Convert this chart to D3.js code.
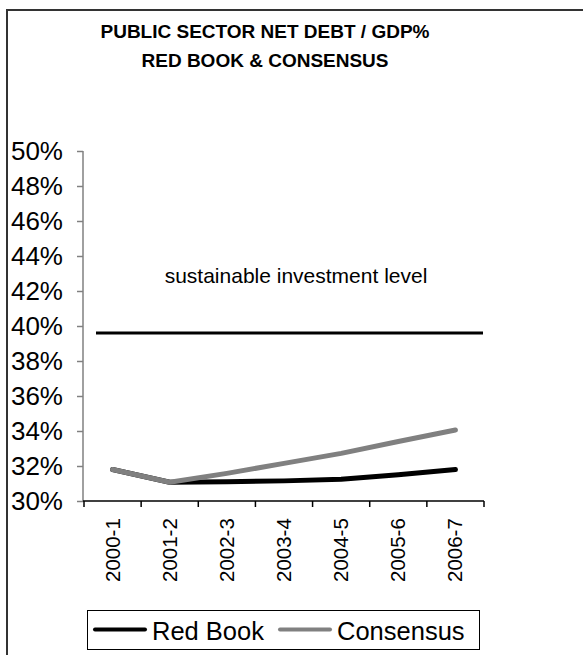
<!DOCTYPE html>
<html>
<head>
<meta charset="utf-8">
<script src="https://cdn.jsdelivr.net/npm/d3@7"></script>
<style>
  body { margin: 0; background: #fff; }
  text { font-family: "Liberation Sans", Arial, sans-serif; }
</style>
</head>
<body>
<div id="chart"></div>
<script>
// data
var years = ["2000-1", "2001-2", "2002-3", "2003-4", "2004-5", "2005-6", "2006-7"];
var redBook = [0.318, 0.3107, 0.311, 0.3115, 0.3124, 0.315, 0.318];
var consensus = [0.318, 0.3107, 0.3158, 0.3215, 0.3272, 0.334, 0.3406];
var sustainable = 0.396;
var yTicks = [0.30, 0.32, 0.34, 0.36, 0.38, 0.40, 0.42, 0.44, 0.46, 0.48, 0.50];
var titleLines = ["PUBLIC SECTOR NET DEBT / GDP%", "RED BOOK & CONSENSUS"];
var seriesNames = ["Red Book", "Consensus"];

var w = 583, h = 655;

var svg = d3.select("#chart").append("svg")
  .attr("width", w)
  .attr("height", h);

// outer frame (runs off the right/bottom edge like the original)
svg.append("rect")
  .attr("x", 7).attr("y", 10)
  .attr("width", 620).attr("height", 700)
  .attr("fill", "none")
  .attr("stroke", "#333")
  .attr("stroke-width", 2);

// title
svg.selectAll(".title")
  .data(titleLines)
  .enter().append("text")
  .attr("class", "title")
  .attr("x", 265)
  .attr("y", function(d, i) { return 38 + i * 29; })
  .attr("text-anchor", "middle")
  .style("font-weight", "bold")
  .style("font-size", "19px")
  .text(function(d) { return d; });

var x = d3.scaleBand().domain(years).range([84, 484]);
var y = d3.scaleLinear().domain([0.30, 0.50]).range([501, 151]);

// y axis
var yAxis = svg.append("g")
  .attr("transform", "translate(83,0)")
  .call(d3.axisLeft(y).tickValues(yTicks).tickFormat(d3.format(".0%")).tickSize(6).tickPadding(14));
yAxis.selectAll("path, line").attr("stroke", "#808080").attr("stroke-width", 1.5);
yAxis.select(".domain").attr("d", "M0,151V501");
yAxis.selectAll("text")
  .style("font-size", "26px")
  .style("font-family", "Liberation Sans, Arial, sans-serif")
  .attr("fill", "#000");

// x axis (ticks between bands)
var xAxis = svg.append("g").attr("transform", "translate(0,501)");
xAxis.append("line")
  .attr("x1", 83).attr("x2", 484)
  .attr("stroke", "#000").attr("stroke-width", 1.5);
var bounds = years.map(function(d) { return x(d); }).concat([x.range()[1]]);
xAxis.selectAll(".tk")
  .data(bounds)
  .enter().append("line")
  .attr("x1", function(d) { return d; }).attr("x2", function(d) { return d; })
  .attr("y1", 0).attr("y2", 6)
  .attr("stroke", "#000").attr("stroke-width", 1.5);
xAxis.selectAll(".lbl")
  .data(years)
  .enter().append("text")
  .attr("transform", function(d) {
    return "translate(" + (x(d) + x.bandwidth() / 2 + 7) + ",81) rotate(-90)";
  })
  .style("font-size", "20.5px")
  .text(function(d) { return d; });

// sustainable level
svg.append("line")
  .attr("x1", x.range()[0] + 12).attr("x2", x.range()[1] - 1)
  .attr("y1", y(sustainable)).attr("y2", y(sustainable))
  .attr("stroke", "#000").attr("stroke-width", 3);
svg.append("text")
  .attr("x", 296).attr("y", 283)
  .attr("text-anchor", "middle")
  .style("font-size", "21px")
  .text("sustainable investment level");

var line = d3.line()
  .x(function(d, i) { return x(years[i]) + x.bandwidth() / 2; })
  .y(function(d) { return y(d); });

svg.append("path")
  .datum(redBook)
  .attr("d", line)
  .attr("fill", "none")
  .attr("stroke", "#000")
  .attr("stroke-width", 5)
  .attr("stroke-linecap", "round")
  .attr("stroke-linejoin", "round");

svg.append("path")
  .datum(consensus)
  .attr("d", line)
  .attr("fill", "none")
  .attr("stroke", "#808080")
  .attr("stroke-width", 5)
  .attr("stroke-linecap", "round")
  .attr("stroke-linejoin", "round");

// legend
var legend = svg.append("g");
legend.append("rect")
  .attr("x", 87.5).attr("y", 610.5)
  .attr("width", 392).attr("height", 39)
  .attr("fill", "#fff")
  .attr("stroke", "#000").attr("stroke-width", 1);
var legX = [95, 280];
var legColors = ["#000", "#808080"];
seriesNames.forEach(function(name, i) {
  legend.append("line")
    .attr("x1", legX[i]).attr("x2", legX[i] + 50)
    .attr("y1", 629.5).attr("y2", 629.5)
    .attr("stroke", legColors[i]).attr("stroke-width", 4)
    .attr("stroke-linecap", "round");
  legend.append("text")
    .attr("x", legX[i] + 57).attr("y", 640)
    .style("font-size", "25.5px")
    .text(name);
});
</script>
</body>
</html>
